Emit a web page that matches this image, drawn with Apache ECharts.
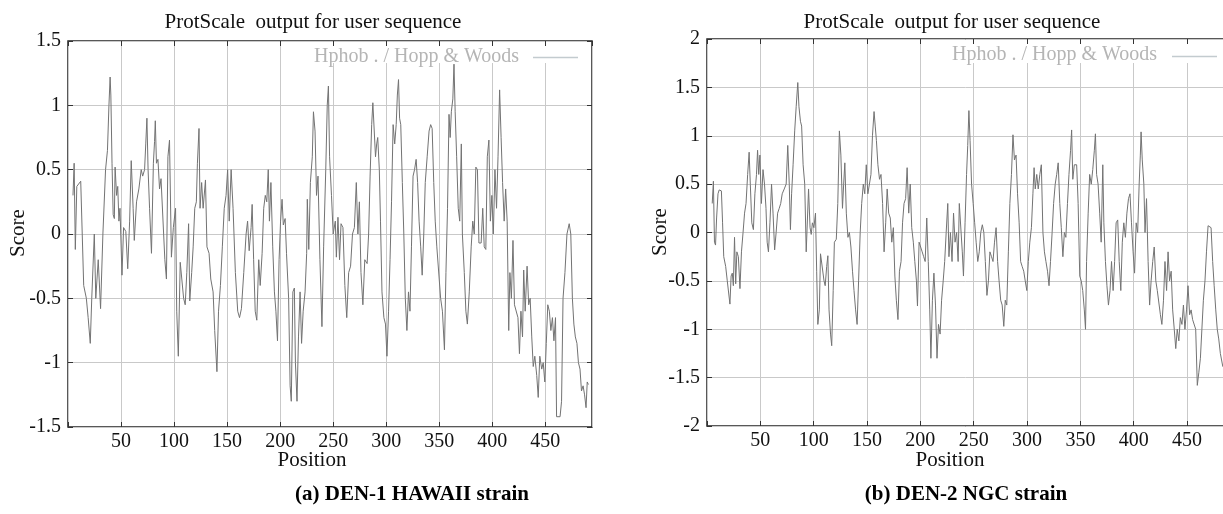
<!DOCTYPE html>
<html>
<head>
<meta charset="utf-8">
<script src="https://cdn.jsdelivr.net/npm/echarts@6/dist/echarts.min.js"></script>
<style>
html,body{margin:0;padding:0;background:#fff;}
#chart{width:1223px;height:514px;}
</style>
</head>
<body>
<div id="chart"></div>
<script>
// ---- Panel (a) DEN-1 HAWAII strain ----
const posA = [4.7,5.8,6.9,8.3,12,13,14.8,17.3,19,21,22.4,24.8,26.2,28.5,30.7,32.9,35.4,37.2,38.6,39.7,40.4,41.5,42.6,43.7,44.4,45.8,46.9,48,49,50.9,52.4,54.5,56.3,58.1,59.6,61.4,62.5,64.6,66.8,69,70.4,72.2,73.3,74.4,75.5,76.9,78.7,80.5,81.6,82.3,83.4,84.8,86.3,87.7,89.5,91.3,92.8,94.2,95.7,97.5,99.3,101.4,102.5,104,105.8,107.6,109,110.5,112,113.7,114.8,116.6,118,119.5,121,122,123.5,124.5,126,127.4,129.6,131,133,134.6,136.8,138.3,140.4,141.9,143.7,145.5,147.3,149,150.5,152,153.8,155.6,157.8,160,161.7,163.5,165.7,167.9,169.3,170.8,172.6,173.6,175,176.5,178,179.8,181.2,183,184.5,186,187.4,188.8,189.9,191.3,193,194.6,196,197.5,199,200.4,201.8,203,204.7,206,208,209.4,210.5,212,213.4,214.4,215.9,217.3,218.8,220.2,221.7,223.5,225,225.6,227,228.5,230.3,231.4,232.9,234.3,235.7,237.5,239.4,241,243,244.4,245.5,246.6,248.4,250,252,253,254.5,256,257.4,259.2,261,262.8,264.6,266.4,268.2,270,271.8,273.3,274.7,276.2,278,279.8,282,283.4,284.8,286.3,287.4,288.4,289.9,291,292,293.5,294.6,296,297.8,299.3,300.7,302.2,303.6,305,306.5,308,309.4,310.5,311.6,312.6,313.7,315.2,316.6,318,319.5,321,322.4,323.8,325.3,326.7,328.2,329.6,331,332.5,333.9,335.4,336.8,338.6,340.4,341.9,343.3,344.8,346.2,347.7,349.5,351.3,353,354.9,356.3,357.8,359.2,360.3,361.4,362.8,363.9,365,366.4,367.9,369.3,370.8,371.8,373.6,375.1,376.5,378.3,380.1,381.6,383,384.5,386,387.4,389.5,391,392.4,393.9,395.3,396.8,398.2,399.6,401,402.5,404,405.4,406.9,408.3,409.7,411.2,412.6,414,415.5,416.6,418,419.5,420.9,422.7,424.2,425.6,427,428.5,429.6,431,432.8,434.3,435.7,437.2,438.6,440.1,441.9,443.3,444.8,446.6,448,449.5,450.9,452.3,453.8,455.2,456.7,458.1,459.6,460.6,463.9,465.3,466.7,468.5,470.4,472.5,474,475.5,476.9,478.3,479.8,481.2,482.7,484.1,485.6,487,488.4,489.5,490.6];
const scoreA = [0.30,0.55,-0.12,0.37,0.41,0.40,-0.40,-0.50,-0.65,-0.85,-0.50,0.00,-0.50,-0.20,-0.58,0.00,0.50,0.65,1.00,1.22,1.08,0.55,0.15,0.12,0.52,0.30,0.37,0.10,0.20,-0.32,0.05,0.02,-0.27,0.10,0.57,0.20,-0.05,0.25,0.35,0.50,0.45,0.50,0.70,0.90,0.50,0.20,-0.15,0.55,0.72,0.88,0.55,0.58,0.35,0.43,0.43,-0.20,-0.35,0.60,0.73,-0.18,0.05,0.20,-0.60,-0.95,-0.22,-0.22,-0.50,-0.55,-0.30,0.08,-0.52,-0.30,-0.10,0.20,0.25,0.55,0.82,0.20,0.40,0.20,0.42,-0.10,-0.15,-0.35,-0.45,-0.75,-1.07,-0.60,-0.40,-0.10,0.20,0.30,0.50,0.10,0.50,0.20,-0.30,-0.60,-0.65,-0.58,-0.30,0.00,0.10,-0.13,0.05,0.23,-0.20,-0.60,-0.67,-0.20,-0.40,-0.15,0.20,0.30,0.25,0.50,0.10,0.40,-0.10,-0.45,-0.60,-0.83,-0.20,0.10,0.27,0.07,0.12,-0.15,-0.50,-1.18,-1.30,-0.45,-0.42,-1.00,-1.30,-0.80,-0.45,-0.85,-0.60,-0.45,-0.15,0.27,-0.12,0.40,0.60,0.95,0.80,0.30,0.45,-0.20,-0.72,-0.10,0.50,1.00,1.15,0.60,0.30,0.00,0.10,-0.18,0.13,-0.20,0.08,0.05,-0.40,-0.65,-0.30,-0.25,0.00,0.05,0.40,0.00,0.25,-0.30,-0.55,-0.20,-0.23,0.00,0.45,0.85,1.02,1.02,0.60,0.70,0.75,0.50,0.10,-0.45,-0.65,-0.70,-0.95,-0.60,-0.20,0.25,0.85,0.70,0.85,1.08,1.20,0.90,0.85,0.40,0.00,-0.50,-0.75,-0.45,-0.60,-0.10,0.45,0.50,0.58,0.40,0.10,-0.10,-0.32,0.00,0.40,0.60,0.80,0.85,0.82,0.40,0.10,-0.10,-0.10,-0.50,-0.60,-0.90,-0.30,0.20,0.93,0.75,0.95,1.05,1.32,0.95,0.60,0.20,0.10,0.70,0.00,-0.30,-0.60,-0.70,-0.45,-0.10,0.10,0.00,0.52,0.50,-0.07,-0.07,0.20,-0.10,-0.12,0.60,0.73,0.10,0.30,0.00,0.50,0.20,0.60,1.12,0.75,0.40,0.10,0.35,0.10,-0.75,-0.30,-0.50,-0.05,-0.55,-0.55,-0.65,-0.93,-0.60,-0.80,-0.28,-0.60,-0.25,-0.55,-0.50,-0.80,-1.03,-0.95,-1.10,-1.27,-0.95,-1.05,-1.00,-1.15,-0.85,-0.55,-0.60,-0.75,-0.65,-0.83,-0.65,-1.42,-1.42,-1.30,-0.50,-0.30,0.00,0.08,0.00,-0.50,-0.70,-0.80,-0.85,-1.00,-1.05,-1.22,-1.18,-1.25,-1.35,-1.15,-1.17];

// ---- Panel (b) DEN-2 NGC strain ----
const posB = [4.9,6,7,8,9,10.3,11.4,13.5,14.6,15.7,17.5,19,20,21.5,22.6,23.7,24.7,25.8,26.9,28,29.4,30.9,32.3,33.8,35.2,36.6,38.1,39.5,40.6,42,43.5,44.9,46.4,47.4,48.5,49.6,51,52.5,53.9,55.3,56.4,57.6,59,60.5,61.9,63.4,64.8,66.2,67.7,69.1,70.5,72.4,74.2,75.7,77.1,78.2,79.3,80.7,82.2,83.6,85.1,86.2,87.6,88.7,90.1,91.6,93,94.1,95.2,96.6,97.7,98.8,100.2,101.7,102.8,103.9,105.3,106.4,108.2,109.7,110.8,112.2,113.3,114.4,115.8,116.9,118.3,119.4,121.2,122.6,124.1,125.5,127,128.1,129.2,130.6,132.1,133.5,134.9,136.4,137.8,139.3,140.7,142.1,143.6,145,146.5,147.9,149.3,150.8,152.2,153.7,155.1,156.6,157.7,158.8,160.2,161.7,163.1,164.6,166,167.5,168.9,170.3,171.8,173.2,174.7,176.1,177.5,179,180.4,181.9,183.3,184.7,186.2,187.6,189.1,190.5,191.9,193.4,194.8,196.3,197.3,198.8,200.2,201.7,203.1,204.5,206,207.4,208.8,209.9,211.3,212.7,214.2,215.6,217,218.5,219.9,221.4,222.8,224.2,225.7,226.8,228.2,229.7,231.1,232.5,234,235.4,236.5,237.9,239.3,240.4,241.9,243.3,244.4,245.5,246.6,248,249.5,250.9,252.3,253.8,255.2,256.6,258.1,259.5,260.9,262.4,263.8,265.2,266.7,268.1,269.5,271,272.4,273.8,275.3,276.7,278.2,279.6,281,282.5,283.9,285.4,286.8,288.2,289.7,291.1,292.6,294,295.4,296.9,298.3,299.8,301.2,302.6,304.1,305.5,306.6,307.7,309.1,310.5,312,313.4,314.9,316.3,317.7,319.2,320.6,322,323.5,324.9,326.4,327.8,329.2,330.7,332.1,333.6,335,336.4,337.9,339.3,340.8,341.8,342.9,344.3,346.5,347.9,349.4,350.8,352.2,353.7,354.8,355.8,357.3,358.7,360.2,361.6,363.1,364.1,365.2,366.6,368.1,369.5,371,372,373.5,374.9,376.3,377.8,379.2,380.7,382.1,383.5,385,386.4,387.9,389.3,390.7,392.2,393.6,395.1,396.5,397.9,399.4,400.8,402.3,403.7,405.1,406.2,406.9,408,409.5,410.6,412,413.5,414.9,416.3,417.8,419.2,420.7,422.1,423.6,425,426.4,427.9,429.3,430.8,432.2,433.6,435.1,436.5,438,439.4,440.8,442.3,443.7,445.2,446.6,448,449.5,450.9,452.4,453.8,455.2,456.7,458.1,459.6,461,462.5,463.9,465.3,466.8,468.2,469.7,471.1,472.5,474,475.4,476.9,478.3,479.7,481.2,483.4,484.5];
const scoreB = [0.30,0.53,-0.10,-0.13,0.15,0.40,0.44,0.43,0.10,-0.25,-0.35,-0.50,-0.52,-0.74,-0.45,-0.42,-0.55,-0.05,-0.53,-0.20,-0.25,-0.58,-0.20,0.00,0.20,0.30,0.60,0.83,0.50,0.10,0.03,0.40,0.60,0.85,0.60,0.80,0.30,0.65,0.50,0.25,-0.10,-0.20,0.10,0.50,0.20,-0.18,0.00,0.20,0.25,0.30,0.40,0.45,0.50,0.90,0.50,0.03,0.40,0.70,1.05,1.30,1.55,1.30,1.15,1.10,0.70,0.50,-0.20,-0.20,0.45,0.05,-0.02,0.10,0.05,0.20,-0.40,-0.95,-0.80,-0.22,-0.22,-0.50,-0.55,-0.35,-0.24,-0.80,-1.05,-1.17,-0.60,-0.10,-0.07,0.30,1.05,0.80,0.25,0.50,0.72,0.20,-0.05,0.00,-0.15,-0.40,-0.60,-0.80,-0.95,-0.50,0.00,0.30,0.50,0.40,0.70,0.40,0.38,0.60,1.00,1.25,1.10,0.95,0.70,0.55,0.60,0.30,-0.20,0.10,0.45,0.20,0.15,-0.10,0.05,-0.45,-0.70,-0.90,-0.40,-0.30,0.10,0.30,0.35,0.67,0.20,0.50,0.05,-0.10,-0.30,-0.50,-0.76,-0.10,-0.08,-0.20,-0.25,-0.30,0.15,-0.30,-0.80,-1.30,-0.70,-0.42,-0.75,-1.30,-0.95,-1.05,-0.70,-0.50,-0.30,0.00,0.30,-0.25,0.00,-0.30,0.20,-0.10,0.00,-0.30,0.30,0.30,-0.20,-0.45,0.10,0.60,0.90,1.26,0.95,0.50,0.30,0.10,-0.10,-0.30,-0.20,0.00,0.08,0.00,-0.30,-0.65,-0.50,-0.20,-0.25,-0.30,-0.10,0.05,-0.30,-0.50,-0.70,-0.75,-0.97,-0.70,-0.75,-0.20,0.30,0.60,1.01,0.75,0.80,0.40,0.10,-0.30,-0.35,-0.40,-0.50,-0.60,-0.30,-0.10,0.05,0.40,0.67,0.45,0.60,0.45,0.60,0.70,0.00,-0.20,-0.30,-0.40,-0.55,-0.30,0.00,0.30,0.50,0.60,0.72,0.30,0.05,-0.25,0.00,-0.05,0.30,0.60,0.85,1.06,0.55,0.70,0.70,0.30,-0.45,-0.50,-0.60,-0.80,-1.00,-0.30,0.20,0.60,0.50,0.65,0.85,1.02,0.60,0.50,0.20,-0.10,0.70,0.10,-0.30,-0.55,-0.75,-0.60,-0.30,-0.60,-0.30,0.10,0.13,-0.30,-0.60,-0.10,0.10,-0.05,0.20,0.35,0.40,0.10,-0.20,-0.42,0.10,0.00,0.50,0.80,1.04,0.75,0.50,0.00,0.35,-0.30,-0.75,-0.50,-0.30,-0.15,-0.50,-0.60,-0.60,-0.85,-0.95,-0.70,-0.30,-0.60,-0.20,-0.50,-0.40,-0.80,-1.00,-1.20,-1.00,-1.12,-0.88,-0.95,-0.75,-1.00,-0.80,-0.55,-0.85,-0.80,-0.90,-0.90,-1.00,-1.58,-1.45,-1.30,-1.00,-0.70,-0.50,-0.20,0.07,0.08,0.05,-0.30,-0.55,-0.80,-1.00,-1.10,-1.25,-1.38,-1.40];

const positionTicks = [50,100,150,200,250,300,350,400,450];
const titleText = 'ProtScale  output for user sequence';
const legendText = 'Hphob . / Hopp & Woods';
const captionA = '(a) DEN-1 HAWAII strain';
const captionB = '(b) DEN-2 NGC strain';

const FONT = '"Liberation Serif", "DejaVu Serif", serif';
const chart = echarts.init(document.getElementById('chart'), null, {renderer:'canvas'});

const tickStyle = {show:true, inside:true, length:5, lineStyle:{color:'#333', width:1}};

function xAxes(gridIndex){
  const base = {gridIndex, type:'value', min:0, max:494, interval:50};
  return [
    Object.assign({}, base, {
      position:'bottom',
      axisLine:{show:false, onZero:false},
      axisTick:tickStyle,
      axisLabel:{show:true, margin:5, color:'#111', fontFamily:FONT, fontSize:20,
        showMaxLabel:false,
        formatter: v => positionTicks.indexOf(v) >= 0 ? String(v) : ''},
      splitLine:{show:true, lineStyle:{color:'#c9c9c9', width:1}}
    }),
    Object.assign({}, base, {
      position:'top',
      axisLine:{show:false, onZero:false},
      axisTick:tickStyle,
      axisLabel:{show:false}, splitLine:{show:false}
    })
  ];
}
function yAxes(gridIndex, lo, hi){
  const base = {gridIndex, type:'value', min:lo, max:hi, interval:0.5};
  return [
    Object.assign({}, base, {
      position:'left',
      axisLine:{show:false, onZero:false},
      axisTick:tickStyle,
      axisLabel:{show:true, margin:7, color:'#111', fontFamily:FONT, fontSize:20},
      splitLine:{show:true, lineStyle:{color:'#c9c9c9', width:1}}
    }),
    Object.assign({}, base, {
      position:'right',
      axisLine:{show:false, onZero:false},
      axisTick:tickStyle,
      axisLabel:{show:false}, splitLine:{show:false}
    })
  ];
}

function txt(x, y, text, font, fill, extra){
  return Object.assign({
    type:'text', x, y, z:100, silent:true,
    style:{text, font, fill, align:'center', verticalAlign:'middle',
           textAlign:'center', textVerticalAlign:'middle'}
  }, extra || {});
}

const option = {
  animation:false,
  backgroundColor:'#fff',
  grid:[
    {left:68, top:41, width:524, height:386, show:true, borderColor:'#222', borderWidth:1.5,
     backgroundColor:'transparent', containLabel:false, outerBoundsMode:'none'},
    {left:707, top:39, width:527, height:387, show:true, borderColor:'#222', borderWidth:1.5,
     backgroundColor:'transparent', containLabel:false, outerBoundsMode:'none'}
  ],
  xAxis: xAxes(0).concat(xAxes(1)),
  yAxis: yAxes(0,-1.5,1.5).concat(yAxes(1,-2,2)),
  series:[
    {type:'line', xAxisIndex:0, yAxisIndex:0, symbol:'none', smooth:false,
     lineStyle:{color:'#737373', width:1}, data: posA.map((p,i)=>[p, scoreA[i]])},
    {type:'line', xAxisIndex:2, yAxisIndex:2, symbol:'none', smooth:false,
     lineStyle:{color:'#737373', width:1}, data: posB.map((p,i)=>[p, scoreB[i]])}
  ],
  graphic:[
    {type:'rect', z:90, silent:true, shape:{x:308, y:46, width:282, height:17}, style:{fill:'#fff'}},
    {type:'rect', z:90, silent:true, shape:{x:946, y:44, width:280, height:19}, style:{fill:'#fff'}},
    {type:'text', z:100, silent:true, x:314, y:57,
     style:{text:legendText, font:'20px '+FONT, fill:'#b5b5b5', align:'left', verticalAlign:'middle', textAlign:'left', textVerticalAlign:'middle'}},
    {type:'line', z:100, silent:true, shape:{x1:533, y1:57.5, x2:578, y2:57.5}, style:{stroke:'#c3cbcf', lineWidth:1.5}},
    {type:'text', z:100, silent:true, x:952, y:55,
     style:{text:legendText, font:'20px '+FONT, fill:'#b5b5b5', align:'left', verticalAlign:'middle', textAlign:'left', textVerticalAlign:'middle'}},
    {type:'line', z:100, silent:true, shape:{x1:1172, y1:56.5, x2:1217, y2:56.5}, style:{stroke:'#c3cbcf', lineWidth:1.5}},
    txt(313, 22, titleText, '21px '+FONT, '#111'),
    txt(952, 22, titleText, '21px '+FONT, '#111'),
    txt(312, 460, 'Position', '21px '+FONT, '#111'),
    txt(950, 460, 'Position', '21px '+FONT, '#111'),
    txt(18, 233, 'Score', '21px '+FONT, '#111', {rotation:Math.PI/2}),
    txt(660, 232, 'Score', '21px '+FONT, '#111', {rotation:Math.PI/2}),
    txt(412, 495, captionA, 'bold 21px '+FONT, '#000'),
    txt(966, 495, captionB, 'bold 21px '+FONT, '#000')
  ]
};
chart.setOption(option);
</script>
</body>
</html>
